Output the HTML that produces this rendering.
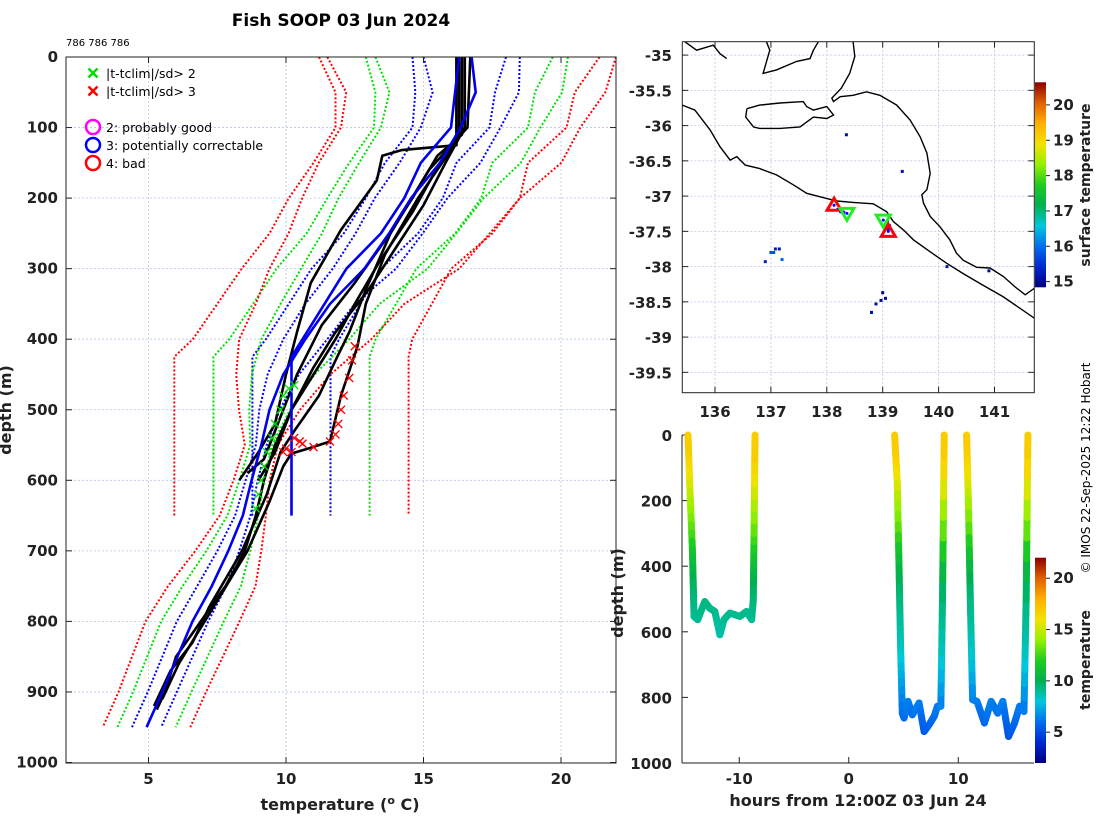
<!DOCTYPE html>
<html><head><meta charset="utf-8"><style>
html,body{margin:0;padding:0;background:#fff;}
svg{display:block;font-family:"DejaVu Sans","Liberation Sans",sans-serif;}
.tk{font-size:15px;font-weight:bold;fill:#222;}
.lab{font-size:16px;font-weight:bold;fill:#222;}
</style></head><body>
<svg id="fig" width="1100" height="820" viewBox="0 0 1100 820">
<text x="341" y="26" text-anchor="middle" style="font-size:17px;font-weight:bold">Fish SOOP 03 Jun 2024</text>
<text x="66" y="46" style="font-size:10px">786 786 786</text>
<g id="main"></g>
<g id="map"></g>
<g id="sect"></g>
<text transform="translate(1090,468) rotate(-90)" text-anchor="middle" style="font-size:12px">© IMOS 22-Sep-2025 12:22 Hobart</text>
</svg>
<script>
// ---------- data ----------
const climADepth=[0,50,100,150,200,250,300,350,400,425,650];
const climAMean=[16.3,16.15,16.0,14.9,14.3,13.45,12.2,11.4,10.6,10.2,10.2];
const climASd=[1.7,1.45,1.4,1.3,1.4,1.35,1.27,1.3,1.33,1.42,1.42];
const climBDepth=[0,50,100,150,200,250,300,350,400,450,500,550,600,650,700,750,800,850,900,950];
const climBMean=[16.75,16.9,16.35,15.6,14.55,13.75,12.85,11.6,10.7,9.9,9.4,9.1,8.75,8.43,7.9,7.3,6.6,6.05,5.5,4.93];
const climBSd=[1.75,1.57,1.45,1.47,1.32,1.22,1.15,0.9,0.8,0.57,0.37,0.2,0.22,0.28,0.4,0.53,0.57,0.55,0.53,0.53];
const sdMultipliers=[-3,-2,-1,1,2,3];
const profA1=[[0,16.2],[125,16.2],[132,14.2],[140,13.5],[175,13.3],[245,12.0],[320,10.9],[390,10.4],[450,10.0],[520,9.6],[560,9.0],[600,8.3]];
const profA2=[[0,16.4],[110,16.4],[140,15.5],[200,14.6],[260,13.6],[320,12.5],[380,11.3],[450,10.4],[520,9.7],[570,9.2],[590,8.6]];
const profA3=[[0,16.5],[100,16.5],[150,15.8],[210,15.0],[270,14.0],[330,13.0],[390,11.8],[440,11.0],[500,10.2],[560,9.6],[600,9.0]];
const profB1=[[0,16.3],[110,16.3],[150,15.6],[220,14.6],[290,13.4],[350,12.5],[400,11.8],[450,11.0],[500,10.2],[550,9.6],[600,9.2],[650,8.9],[700,8.5],[750,7.8],[800,6.9],[850,6.0],[900,5.6],[925,5.3]];
const profB2=[[0,16.7],[100,16.6],[160,15.2],[250,13.8],[330,12.9],[390,12.3],[430,11.8],[480,11.2],[530,10.3],[560,9.8],[620,9.3],[700,8.4],[780,7.2],[830,6.6],[870,5.8],[920,5.2]];
const profB3=[[0,16.2],[120,16.2],[200,14.8],[280,13.6],[350,12.9],[410,12.6],[480,12.0],[545,11.6],[555,10.8],[562,10.2],[580,9.9],[630,9.4],[700,8.6],[790,7.2],[860,6.1],[910,5.5]];
const redFlagT=[12.5,12.4,12.3,12.1,12.0,11.9,11.8,11.6,10.6,10.3,10.0,10.2,10.5,11.0,9.9];
const redFlagD=[410,430,455,480,500,520,535,545,548,540,555,560,545,553,560];
const greenFlagT=[9.9,9.8,9.6,9.5,9.3,9.2,9.1,9.0,8.9,10.3,10.1];
const greenFlagD=[480,500,520,540,560,580,600,620,640,465,470];
const tTicks=[5,10,15,20];
const dTicks=[0,100,200,300,400,500,600,700,800,900,1000];
// map
const lonTicks=[136,137,138,139,140,141];
const latTicks=[-35,-35.5,-36,-36.5,-37,-37.5,-38,-38.5,-39,-39.5];
const shelfLon=[135.415,135.64,135.91,136.09,136.27,136.39,136.54,136.80,137.10,137.40,137.64,137.88,138.18,138.47,138.83,139.07,139.19,139.37,139.55,139.85,140.14,140.44,140.74,141.16,141.71];
const shelfLat=[-35.71,-35.78,-36.06,-36.30,-36.49,-36.44,-36.56,-36.61,-36.70,-36.84,-36.96,-37.01,-37.07,-37.09,-37.11,-37.22,-37.36,-37.48,-37.62,-37.79,-37.95,-38.10,-38.24,-38.43,-38.73];
const coastLon=[138.47,138.50,138.41,138.26,138.09,138.12,138.24,138.47,138.71,138.95,139.25,139.49,139.67,139.79,139.85,139.79,139.70,139.73,139.85,140.02,140.20,140.32,140.44,140.68,140.92,141.16,141.37,141.55,141.71];
const coastLat=[-34.81,-35.02,-35.26,-35.47,-35.61,-35.66,-35.59,-35.57,-35.52,-35.57,-35.71,-35.92,-36.16,-36.39,-36.68,-36.91,-36.98,-37.10,-37.29,-37.43,-37.62,-37.81,-37.91,-38.01,-38.02,-38.14,-38.29,-38.40,-38.31];
const kiLon=[136.57,136.80,137.16,137.58,137.64,137.76,138.0,138.12,138.0,137.76,137.52,137.16,136.80,136.69,136.55,136.57];
const kiLat=[-35.76,-35.71,-35.68,-35.66,-35.73,-35.78,-35.73,-35.85,-35.90,-35.88,-36.02,-36.04,-36.04,-36.02,-35.88,-35.76];
const eyreLon=[135.46,135.67,135.97,136.09,136.21];
const eyreLat=[-34.81,-34.93,-34.86,-34.98,-35.05];
const yorkeLon=[136.92,136.98,136.86,137.10,137.46,137.70,137.76,137.85];
const yorkeLat=[-34.81,-34.93,-35.26,-35.21,-35.09,-35.05,-34.93,-34.81];
const sstLon=[137.08,137.0,137.15,136.9,137.2,139.0,139.05,138.97,138.88,138.8,138.35,139.35,140.15,140.9,137.05];
const sstLat=[-37.75,-37.8,-37.75,-37.93,-37.9,-38.37,-38.45,-38.48,-38.53,-38.65,-36.13,-36.65,-38.0,-38.06,-37.8];
const sstVal=[15.2,15.8,15.1,15.3,15.9,14.9,15.0,15.0,15.1,15.0,15.0,15.1,15.2,15.0,15.7];
const dropLon=[138.13,138.36,139.01,139.10];
const dropLat=[-37.13,-37.245,-37.34,-37.50];
const dropFlag=[4,2,2,4];
const trackLon=[138.2,138.25,138.3,139.08,139.12,139.1];
const trackLat=[-37.19,-37.22,-37.23,-37.36,-37.42,-37.47];
// section
const secHours1=[-14.68,-14.53,-14.28,-14.13,-13.8,-13.15,-12.7,-12.23,-11.77,-11.4,-10.86,-9.94,-9.33,-8.87,-8.72,-8.65,-8.56];
const secDepth1=[0,147,350,553,563,508,528,538,609,563,543,553,538,563,503,300,0];
const secHours2=[4.19,4.43,4.59,4.74,4.89,5.05,5.41,5.81,6.42,6.88,7.34,7.8,8.1,8.41,8.56,8.72];
const secDepth2=[0,147,401,655,848,863,812,853,817,904,883,858,827,827,503,0];
const secHours3=[10.76,10.92,11.1,11.31,11.71,12.39,13.0,13.6,14.07,14.59,15.14,15.6,16.0,16.2,16.36];
const secDepth3=[0,198,503,807,812,878,812,848,812,919,878,827,843,503,0];
const hourTicks=[-10,0,10];
const secDTicks=[0,200,400,600,800,1000];
const cbMapTicks=[15,16,17,18,19,20];
const cbSecTicks=[5,10,15,20];

// ---------- helpers ----------
const NS='http://www.w3.org/2000/svg';
function mk(parent,tag,attrs,text){const e=document.createElementNS(NS,tag);for(const k in attrs)e.setAttribute(k,attrs[k]);if(text!==undefined)e.textContent=text;parent.appendChild(e);return e;}
const xT=t=>66+(t-2)*27.5, yD=d=>57+d*0.7055;
const xLon=l=>682.3+(l-135.415)*55.9, yLat=l=>41.7+(-34.81-l)*70.5;
const xH=h=>682+(h+15.23)*10.95, yS=d=>435+d*0.328;
const stops=[[0,[0,0,128]],[0.1,[0,40,210]],[0.2,[0,110,240]],[0.3,[0,200,220]],[0.4,[0,176,80]],[0.5,[30,205,30]],[0.6,[150,240,0]],[0.7,[245,225,0]],[0.8,[255,175,0]],[0.9,[225,95,0]],[1,[140,0,0]]];
function cmap(v){v=Math.max(0,Math.min(1,v));for(let i=1;i<stops.length;i++){if(v<=stops[i][0]){const a=stops[i-1],b=stops[i],f=(v-a[0])/(b[0]-a[0]);return 'rgb('+a[1].map((c,j)=>Math.round(c+(b[1][j]-c)*f)).join(',')+')';}}return 'rgb(140,0,0)';}
function interp(xs,ys,x){if(x<=xs[0])return ys[0];for(let i=1;i<xs.length;i++){if(x<=xs[i]){const f=(x-xs[i-1])/(xs[i]-xs[i-1]);return ys[i-1]+(ys[i]-ys[i-1])*f;}}return ys[ys.length-1];}
const grid={stroke:'#b8c4e8','stroke-width':0.8,'stroke-dasharray':'2,2'};

// ---------- main profile plot ----------
const M=document.getElementById('main');
tTicks.forEach(t=>{const g=mk(M,'line',Object.assign({x1:xT(t),x2:xT(t),y1:57,y2:763},grid));
});
dTicks.slice(1,-1).forEach(d=>{const g=mk(M,'line',Object.assign({x1:66,x2:616,y1:yD(d),y2:yD(d)},grid));
});
const bandColors={1:'#0000ff',2:'#00e000',3:'#ff0000'};
[[climADepth,climAMean,climASd,'clim-a'],[climBDepth,climBMean,climBSd,'clim-b']].forEach(([dd,mm,ss,nm])=>{
  sdMultipliers.forEach(k=>{
    const pts=dd.map((d,i)=>xT(mm[i]+k*ss[i]).toFixed(1)+','+yD(d).toFixed(1)).join(' ');
    const p=mk(M,'polyline',{points:pts,fill:'none',stroke:bandColors[Math.abs(k)],'stroke-width':2,'stroke-dasharray':'2,2'});
    
    
  });
});
[profA1,profA2,profA3,profB1,profB2,profB3].forEach((pr,i)=>{
  const p=mk(M,'polyline',{points:pr.map(q=>xT(q[1]).toFixed(1)+','+yD(q[0]).toFixed(1)).join(' '),fill:'none',stroke:'#000','stroke-width':2.6,'stroke-linejoin':'round'});
  
  
});
[[climADepth,climAMean,'clim-a-mean'],[climBDepth,climBMean,'clim-b-mean']].forEach(([dd,mm,nm])=>{
  const p=mk(M,'polyline',{points:dd.map((d,i)=>xT(mm[i]).toFixed(1)+','+yD(d).toFixed(1)).join(' '),fill:'none',stroke:'#0000ee','stroke-width':2.6});
  
  
});
function cross(g,x,y,c,s,w){mk(g,'path',{d:`M${x-s},${y-s}L${x+s},${y+s}M${x-s},${y+s}L${x+s},${y-s}`,stroke:c,'stroke-width':w,fill:'none'});}
greenFlagT.forEach((t,i)=>{const g=mk(M,'g',{});cross(g,xT(t),yD(greenFlagD[i]),'#00e000',4,1.3);});
redFlagT.forEach((t,i)=>{const g=mk(M,'g',{});cross(g,xT(t),yD(redFlagD[i]),'#ff0000',4,1.3);});
mk(M,'rect',{x:66,y:57,width:550,height:706,fill:'none',stroke:'#222','stroke-width':1});
tTicks.forEach(t=>{mk(M,'line',{x1:xT(t),x2:xT(t),y1:763,y2:757,stroke:'#222'});mk(M,'line',{x1:xT(t),x2:xT(t),y1:57,y2:63,stroke:'#222'});
  const l=mk(M,'text',{x:xT(t),y:784,'text-anchor':'middle',class:'tk'},t);});
dTicks.forEach(d=>{mk(M,'line',{x1:66,x2:72,y1:yD(d),y2:yD(d),stroke:'#222'});mk(M,'line',{x1:610,x2:616,y1:yD(d),y2:yD(d),stroke:'#222'});
  const l=mk(M,'text',{x:58,y:yD(d)+5,'text-anchor':'end',class:'tk'},d);});
let t1=mk(M,'text',{x:340,y:810,'text-anchor':'middle',class:'lab'});t1.innerHTML='temperature (<tspan dy="-6" font-size="11">o</tspan><tspan dy="6"> C)</tspan>';

let t2=mk(M,'text',{transform:'translate(11,410) rotate(-90)','text-anchor':'middle',class:'lab'},'depth (m)');

// legend
const L=mk(M,'g',{});
cross(L,93,73,'#00e000',4.5,2.5);mk(L,'text',{x:106,y:78,style:'font-size:12.5px'},'|t-tclim|/sd> 2');
cross(L,93,91,'#ff0000',4.5,2.5);mk(L,'text',{x:106,y:96,style:'font-size:12.5px'},'|t-tclim|/sd> 3');
[['#ff00ff','2: probably good',127],['#0000ff','3: potentially correctable',145],['#ff0000','4: bad',163]].forEach(([c,s,y])=>{
  mk(L,'circle',{cx:93,cy:y,r:7,fill:'none',stroke:c,'stroke-width':2.5});mk(L,'text',{x:106,y:y+5,style:'font-size:12.5px'},s);});

// ---------- map ----------
const P=document.getElementById('map');
lonTicks.forEach(l=>{mk(P,'line',Object.assign({x1:xLon(l),x2:xLon(l),y1:41.7,y2:392.7},grid));
  mk(P,'line',{x1:xLon(l),x2:xLon(l),y1:392.7,y2:386.7,stroke:'#222'});mk(P,'line',{x1:xLon(l),x2:xLon(l),y1:41.7,y2:47.7,stroke:'#222'});
  const t=mk(P,'text',{x:xLon(l),y:417,'text-anchor':'middle',class:'tk'},l);});
latTicks.forEach(l=>{mk(P,'line',Object.assign({x1:682.3,x2:1034.3,y1:yLat(l),y2:yLat(l)},grid));
  mk(P,'line',{x1:682.3,x2:688.3,y1:yLat(l),y2:yLat(l),stroke:'#222'});mk(P,'line',{x1:1028.3,x2:1034.3,y1:yLat(l),y2:yLat(l),stroke:'#222'});
  const t=mk(P,'text',{x:672,y:yLat(l)+6,'text-anchor':'end',class:'tk'},l);});
const clip=mk(P,'clipPath',{id:'mapclip'});mk(clip,'rect',{x:682.3,y:41.7,width:352,height:351});
const MG=mk(P,'g',{'clip-path':'url(#mapclip)'});
[[shelfLon,shelfLat,'shelf-line'],[coastLon,coastLat,'coastline'],[kiLon,kiLat,'kangaroo-island'],[eyreLon,eyreLat,'coastline'],[yorkeLon,yorkeLat,'coastline']].forEach(([lo,la,nm])=>{
  const p=mk(MG,'polyline',{points:lo.map((v,i)=>xLon(v).toFixed(1)+','+yLat(la[i]).toFixed(1)).join(' '),fill:'none',stroke:'#000','stroke-width':1.4});
  });
sstLon.forEach((l,i)=>{const r=mk(MG,'rect',{x:xLon(l)-1.5,y:yLat(sstLat[i])-1.5,width:3,height:3,fill:cmap((sstVal[i]-14.84)/5.8)});
  });
trackLon.forEach((l,i)=>{const c=mk(MG,'circle',{cx:xLon(l),cy:yLat(trackLat[i]),r:1.8,fill:'#0000ff'});
  });
dropLon.forEach((l,i)=>{const x=xLon(l),y=yLat(dropLat[i]);let p;
  if(dropFlag[i]===4)p=mk(MG,'path',{d:`M${x},${y-7}L${x+7},${y+5}L${x-7},${y+5}Z`,fill:'none',stroke:'#ff0000','stroke-width':3});
  else p=mk(MG,'path',{d:`M${x},${y+7}L${x+7},${y-5}L${x-7},${y-5}Z`,fill:'none',stroke:'#22ee22','stroke-width':3});
  
  mk(MG,'circle',{cx:x,cy:y,r:1.5,fill:'#0000ff'});});
mk(P,'rect',{x:682.3,y:41.7,width:352,height:351,fill:'none',stroke:'#222','stroke-width':1});
// colorbar 1
const defs=mk(document.getElementById('fig'),'defs',{});
const lg=mk(defs,'linearGradient',{id:'cg',x1:0,y1:1,x2:0,y2:0});
stops.forEach(s=>mk(lg,'stop',{offset:s[0],'stop-color':cmap(s[0])}));
const cb1=mk(P,'rect',{x:1035,y:82.3,width:11,height:205,fill:'url(#cg)'});
const cb1y=v=>287.3-(v-14.84)/5.8*205;
cbMapTicks.forEach(v=>{mk(P,'line',{x1:1046,x2:1050,y1:cb1y(v),y2:cb1y(v),stroke:'#222'});
  const t=mk(P,'text',{x:1053,y:cb1y(v)+5,class:'tk'},v);});
let t3=mk(P,'text',{transform:'translate(1090,185) rotate(-90)','text-anchor':'middle',class:'lab',style:'font-size:14px'},'surface temperature');


// ---------- depth-time section ----------
const S=document.getElementById('sect');
mk(S,'line',{x1:682,x2:682,y1:435,y2:763,stroke:'#222'});mk(S,'line',{x1:682,x2:1034,y1:763,y2:763,stroke:'#222'});
hourTicks.forEach(h=>{mk(S,'line',{x1:xH(h),x2:xH(h),y1:763,y2:757,stroke:'#222'});
  const t=mk(S,'text',{x:xH(h),y:784,'text-anchor':'middle',class:'tk'},h);});
secDTicks.forEach(d=>{mk(S,'line',{x1:682,x2:688,y1:yS(d),y2:yS(d),stroke:'#222'});
  const t=mk(S,'text',{x:672,y:yS(d)+6,'text-anchor':'end',class:'tk'},d);});
[[secHours1,secDepth1],[secHours2,secDepth2],[secHours3,secDepth3]].forEach(([hh,dd])=>{
  const g=mk(S,'g',{});
  for(let i=1;i<hh.length;i++){const n=8;for(let j=0;j<n;j++){
    const f0=j/n,f1=(j+1)/n;const h0=hh[i-1]+(hh[i]-hh[i-1])*f0,h1=hh[i-1]+(hh[i]-hh[i-1])*f1,d0=dd[i-1]+(dd[i]-dd[i-1])*f0,d1=dd[i-1]+(dd[i]-dd[i-1])*f1;
    const tv=interp(climBDepth,climBMean,(d0+d1)/2);
    mk(g,'line',{x1:xH(h0),y1:yS(d0),x2:xH(h1),y2:yS(d1),stroke:cmap((tv-2)/20),'stroke-width':7,'stroke-linecap':'round'});}}
});
const cb2=mk(S,'rect',{x:1035,y:557.7,width:11,height:205.3,fill:'url(#cg)'});
const cb2y=v=>763-(v-2)/20*205.3;
cbSecTicks.forEach(v=>{mk(S,'line',{x1:1046,x2:1050,y1:cb2y(v),y2:cb2y(v),stroke:'#222'});
  const t=mk(S,'text',{x:1053,y:cb2y(v)+5,class:'tk'},v);});
let t4=mk(S,'text',{transform:'translate(1090,660) rotate(-90)','text-anchor':'middle',class:'lab',style:'font-size:14px'},'temperature');

let t5=mk(S,'text',{x:858,y:806,'text-anchor':'middle',class:'lab'},'hours from 12:00Z 03 Jun 24');

let t6=mk(S,'text',{transform:'translate(623,593) rotate(-90)','text-anchor':'middle',class:'lab'},'depth (m)');

</script>
</body></html>
